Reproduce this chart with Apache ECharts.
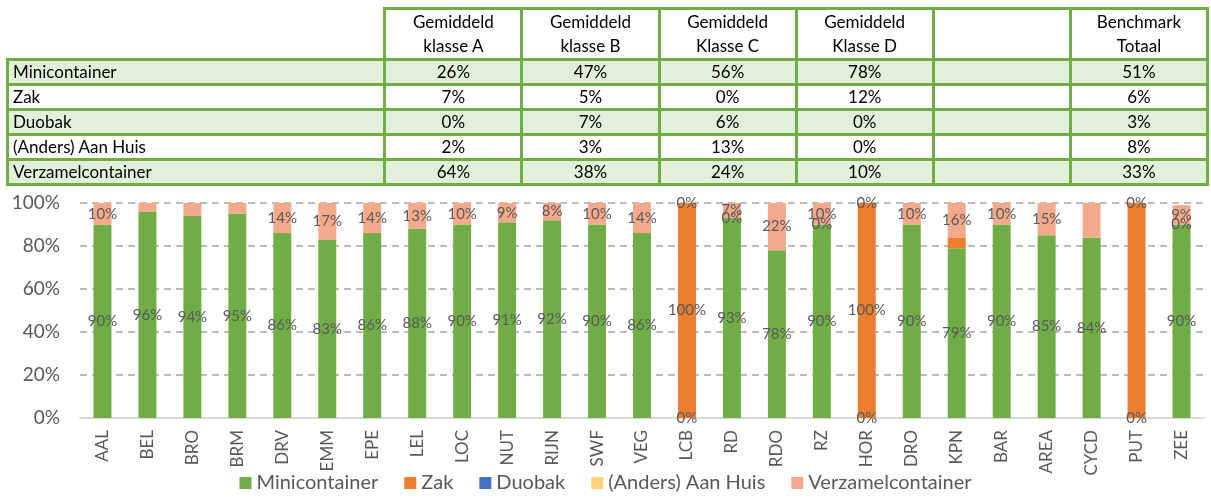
<!DOCTYPE html>
<html>
<head>
<meta charset="utf-8">
<title>Inzamelmiddel per gemeente</title>
<script src="https://cdn.jsdelivr.net/npm/echarts@6/dist/echarts.min.js"></script>
<style>
  body { margin: 0; background: #fff; }
  #chart { position: absolute; left: 0; top: 0; width: 1211px; height: 500px; }
  #tbl {
    position: absolute; left: 6px; top: 7px; width: 1203px;
    border-collapse: collapse; table-layout: fixed;
    font-family: Lato, "Liberation Sans", sans-serif; font-size: 17px; color: #000;
  }
  #tbl td { border: 3px solid #70AD47; padding: 0 4px; height: 22px; line-height: 22px; text-align: center; white-space: nowrap; }
  #tbl td.name { text-align: left; }
  #tbl tr.head td { height: 46px; line-height: 24px; }
  #tbl tr.head td.blank { border-top: none; border-left: none; }
  #tbl tr.odd td { background: #E2EFDA; }
</style>
</head>
<body>
<div id="chart"></div>
<table id="tbl"></table>
<script>
  // tabel bovenaan
  var tableHeads = [['Gemiddeld', 'klasse A'], ['Gemiddeld', 'klasse B'], ['Gemiddeld', 'Klasse C'], ['Gemiddeld', 'Klasse D'], ['', ''], ['Benchmark', 'Totaal']];
  var tableRows = ['Minicontainer', 'Zak', 'Duobak', '(Anders) Aan Huis', 'Verzamelcontainer'];
  var klasseA = [26, 7, 0, 2, 64];
  var klasseB = [47, 5, 7, 3, 38];
  var klasseC = [56, 0, 6, 13, 24];
  var klasseD = [78, 12, 0, 0, 10];
  var leeg = [null, null, null, null, null];
  var benchmark = [51, 6, 3, 8, 33];

  // grafiek
  var categories = ['AAL', 'BEL', 'BRO', 'BRM', 'DRV', 'EMM', 'EPE', 'LEL', 'LOC', 'NUT', 'RIJN', 'SWF', 'VEG',
    'LCB', 'RD', 'RDO', 'RZ', 'HOR', 'DRO', 'KPN', 'BAR', 'AREA', 'CYCD', 'PUT', 'ZEE'];
  var minicontainer = [90, 96, 94, 95, 86, 83, 86, 88, 90, 91, 92, 90, 86, 0, 93, 78, 90, 0, 90, 79, 90, 85, 84, 0, 90];
  var zak = [null, null, null, null, null, null, null, null, null, null, null, null, null, 100, 0, null, 0, 100, null, 5, null, null, null, 100, 0];
  var duobak = [null, null, null, null, null, null, null, null, null, null, null, null, null, null, null, null, null, null, null, null, null, null, null, null, null];
  var aanHuis = [null, null, null, null, null, null, null, null, null, null, null, null, null, null, null, null, null, null, null, null, null, null, null, null, null];
  var verzamelcontainer = [10, 4, 6, 5, 14, 17, 14, 13, 10, 9, 8, 10, 14, 0, 7, 22, 10, 0, 10, 16, 10, 15, 16, 0, 9];
  // labels die in het origineel weggelaten zijn
  var hiddenLabels = { 'Zak': ['KPN', 'PUT'], 'Verzamelcontainer': ['BEL', 'BRO', 'BRM', 'CYCD'] };
  var yTicks = [0, 20, 40, 60, 80, 100];

  var tableCols = [klasseA, klasseB, klasseC, klasseD, leeg, benchmark];
  var html = '<colgroup><col style="width:377px">';
  tableCols.forEach(function () { html += '<col style="width:137px">'; });
  html += '</colgroup><tr class="head"><td class="blank"></td>';
  tableHeads.forEach(function (h) { html += '<td>' + h[0] + '<br>' + h[1] + '</td>'; });
  html += '</tr>';
  tableRows.forEach(function (name, i) {
    html += '<tr class="' + (i % 2 === 0 ? 'odd' : '') + '"><td class="name">' + name + '</td>';
    tableCols.forEach(function (col) {
      html += '<td>' + (col[i] === null ? '' : col[i] + '%') + '</td>';
    });
    html += '</tr>';
  });
  document.getElementById('tbl').innerHTML = html;

  var chart = echarts.init(document.getElementById('chart'));

  function serie(name, data, color) {
    var hidden = hiddenLabels[name] || [];
    return {
      name: name,
      type: 'bar',
      stack: 'totaal',
      barWidth: '40%',
      data: data,
      itemStyle: { color: color },
      label: {
        show: true,
        position: 'inside',
        color: '#595959',
        fontFamily: 'Lato',
        fontSize: 15,
        formatter: function (p) {
          if (p.value === null || p.value === undefined || hidden.indexOf(p.name) >= 0) return '';
          return p.value + '%';
        }
      }
    };
  }

  chart.setOption({
    animation: false,
    textStyle: { fontFamily: 'Lato' },
    grid: { left: 80, right: 7, top: 203, bottom: 82 },
    legend: {
      bottom: 2,
      left: 'center',
      icon: 'rect',
      itemWidth: 12,
      itemHeight: 12,
      itemGap: 26,
      textStyle: { color: '#595959', fontSize: 20, fontFamily: 'Lato' },
      data: ['Minicontainer', 'Zak', 'Duobak', '(Anders) Aan Huis', 'Verzamelcontainer']
    },
    xAxis: {
      type: 'category',
      data: categories,
      axisLine: { lineStyle: { color: '#D9D9D9', width: 2 } },
      axisTick: { show: false },
      axisLabel: { rotate: 90, color: '#595959', fontSize: 17, margin: 12, interval: 0 }
    },
    yAxis: {
      type: 'value',
      min: yTicks[0],
      max: yTicks[yTicks.length - 1],
      interval: yTicks[1] - yTicks[0],
      axisLine: { show: false },
      axisTick: { show: false },
      axisLabel: { color: '#595959', fontSize: 19, margin: 20, formatter: '{value}%' },
      splitLine: { lineStyle: { color: '#A6A6A6', type: [7, 5], width: 1.5 } }
    },
    series: [
      serie('Minicontainer', minicontainer, '#70AD47'),
      serie('Zak', zak, '#ED7D31'),
      serie('Duobak', duobak, '#4472C4'),
      serie('(Anders) Aan Huis', aanHuis, '#FFD27F'),
      serie('Verzamelcontainer', verzamelcontainer, '#F3A98C')
    ]
  });
</script>
</body>
</html>
